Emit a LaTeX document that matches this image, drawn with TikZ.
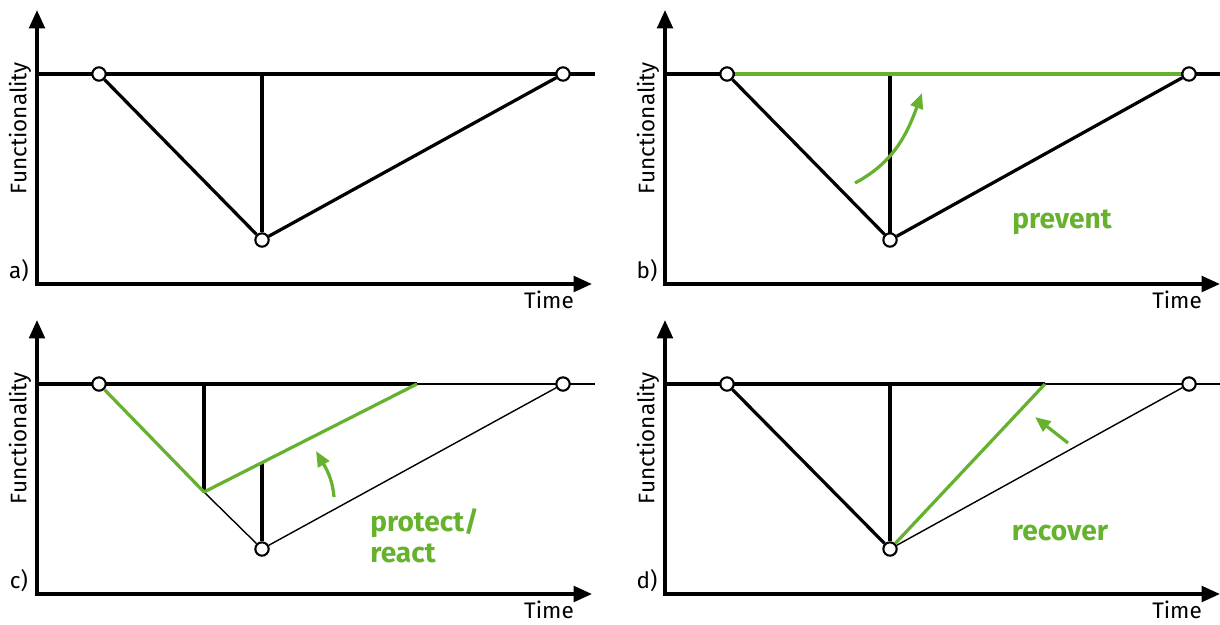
\documentclass[tikz,border=0pt]{standalone}
\usepackage{fontspec}
\setmainfont{Fira Sans}
\usetikzlibrary{arrows.meta}
\definecolor{LeafGreen}{RGB}{102, 178, 46}

\begin{document}
\begin{tikzpicture}[x=0.025cm, y=-0.025cm,
    axis/.style={line width=2.5pt, {Triangle[length=13pt, width=11pt]}-{Triangle[length=13pt, width=11pt]}},
    curve/.style={line width=2.3pt},
    faint/.style={line width=1pt},
    gline/.style={line width=2.3pt, LeafGreen},
    garrow/.style={line width=2.3pt, LeafGreen, -{Triangle[length=11pt, width=9pt]}},
    pt/.style={circle, draw, fill=white, line width=1.5pt, inner sep=0pt, minimum size=9.5pt},
    axlabel/.style={font=\fontsize{16}{19}\selectfont, inner sep=0pt},
    tag/.style={font=\bfseries\fontsize{20}{22}\selectfont, text=LeafGreen, inner sep=0pt}]
    \useasboundingbox (0,0) rectangle (1220,624);
    % axes and labels of the four panels
    \foreach \dx/\dy/\p in {0/0/a, 628/0/b, 0/310/c, 628/310/d} {
        \begin{scope}[shift={(\dx,\dy)}]
            \draw[axis] (37,10) |- (592,284);
            \node[axlabel, rotate=90] (\p-ylab) at (20,128) {Functionality};
            \node[axlabel] (\p-xlab) at (549,300) {Time};
            \node[axlabel] (\p-tag) at (19,271) {\p)};
        \end{scope}
    }
    % a) baseline
    \draw[curve] (37,74) -- (595,74);
    \coordinate (a0) at (262,74);
    \node[pt] (a1) at (99,74) {};
    \node[pt] (a2) at (262,240) {};
    \node[pt] (a3) at (563,74) {};
    \draw[curve] (a1) -- (a2) -- (a3);
    \draw[curve] (a0) -- (a2);
    % b) prevent
    \draw[curve] (665,74) -- (1220,74);
    \coordinate (b0) at (890,74);
    \draw[curve] (b0) -- (890,240);
    \node[pt] (b1) at (727,74) {};
    \node[pt] (b2) at (890,240) {};
    \node[pt] (b3) at (1189,74) {};
    \draw[curve] (b1) -- (b2) -- (b3);
    \draw[gline] (b1) -- (b3);
    \coordinate (bt) at (855,183);
    \coordinate (bh) at (922,93);
    \draw[garrow] (bt) to[out=28, in=-110] (bh);
    \node[tag] (b-lab) at (1062,222) {prevent};
    % c) protect / react
    \draw[faint] (37,384) -- (595,384);
    \coordinate (c0) at (204,384);
    \coordinate (ck) at (204,492);
    \coordinate (cm) at (262,463);
    \coordinate (ce) at (417,384);
    \draw[curve] (37,384) -- (ce);
    \node[pt] (c1) at (99,384) {};
    \node[pt] (c2) at (262,549) {};
    \node[pt] (c3) at (563,384) {};
    \draw[faint] (ck) -- (c2) -- (c3);
    \draw[curve] (c0) -- (ck);
    \draw[curve] (cm) -- (c2);
    \draw[gline, line join=round] (c1) -- (ck) -- (ce);
    \coordinate (ct) at (334,497);
    \coordinate (ch) at (316,451);
    \draw[garrow] (ct) to[out=95, in=-60] (ch);
    \node[tag, align=left, anchor=west] (c-lab) at (370,536) {protect/\\react};
    % d) recover
    \draw[faint] (665,384) -- (1220,384);
    \coordinate (d0) at (890,384);
    \coordinate (de) at (1045,384);
    \draw[curve] (665,384) -- (de);
    \node[pt] (d1) at (727,384) {};
    \node[pt] (d2) at (890,549) {};
    \node[pt] (d3) at (1189,384) {};
    \draw[curve] (d1) -- (d2);
    \draw[curve] (d0) -- (d2);
    \draw[faint] (d2) -- (d3);
    \draw[gline] (d2) -- (de);
    \coordinate (dt) at (1068,443);
    \coordinate (dh) at (1035,417);
    \draw[garrow] (dt) -- (dh);
    \node[tag] (d-lab) at (1060,533) {recover};
\end{tikzpicture}
\end{document}
